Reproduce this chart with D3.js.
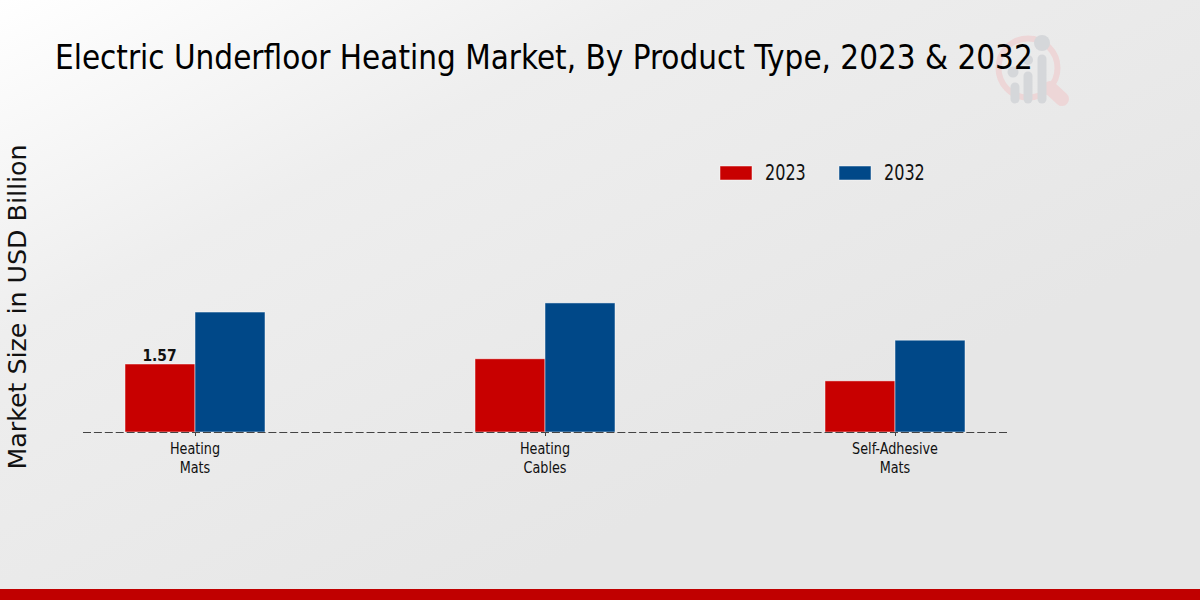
<!DOCTYPE html>
<html>
<head>
<meta charset="utf-8">
<script src="https://cdn.jsdelivr.net/npm/d3@7"></script>
<style>
  html, body { margin: 0; padding: 0; background: #e6e6e6; overflow: hidden; }
  text { font-family: "DejaVu Sans Condensed", "DejaVu Sans", sans-serif; }
</style>
</head>
<body>
<svg id="chart" width="1200" height="600"></svg>
<script>
// values, 1.57 is the only printed label
const categories = [['Heating', 'Mats'], ['Heating', 'Cables'], ['Self-Adhesive', 'Mats']];
const years = ['2023', '2032'];
const values2023 = [1.57, 1.69, 1.18];
const values2032 = [2.77, 2.98, 2.12];
const barColors = ['#c80000', '#004888'];
const titleText = 'Electric Underfloor Heating Market, By Product Type, 2023 & 2032';
const yLabel = 'Market Size in USD Billion';

const svg = d3.select('#chart');
const defs = svg.append('defs');

// ===== background =====
const grad = defs.append('linearGradient').attr('id', 'bg')
  .attr('x1', '0%').attr('y1', '0%').attr('x2', '70%').attr('y2', '70%');
grad.append('stop').attr('offset', '0%').attr('stop-color', '#ffffff');
grad.append('stop').attr('offset', '40%').attr('stop-color', '#eeeeee');
grad.append('stop').attr('offset', '100%').attr('stop-color', '#e6e6e6');
svg.append('rect').attr('width', 1200).attr('height', 600).attr('fill', 'url(#bg)');
svg.append('rect').attr('y', 589).attr('width', 1200).attr('height', 11).attr('fill', '#c00000');

// ===== watermark logo =====
const logo = svg.append('g');
logo.append('line').attr('x1', 1050).attr('y1', 88).attr('x2', 1062).attr('y2', 99)
  .attr('stroke', '#edd6d7').attr('stroke-width', 14).attr('stroke-linecap', 'round');
logo.append('circle').attr('cx', 1028).attr('cy', 68).attr('r', 29.5)
  .attr('fill', 'none').attr('stroke', '#edd6d7').attr('stroke-width', 6);
[[1015, 87], [1028, 76], [1042, 59]].forEach(([cx, top]) => {
  logo.append('line').attr('x1', cx).attr('y1', top).attr('x2', cx).attr('y2', 99)
    .attr('stroke', '#d5d7da').attr('stroke-width', 9).attr('stroke-linecap', 'round');
});
logo.append('circle').attr('cx', 1013).attr('cy', 72).attr('r', 5.5).attr('fill', '#d5d7da');
logo.append('circle').attr('cx', 1028).attr('cy', 60).attr('r', 5).attr('fill', '#d5d7da');
logo.append('circle').attr('cx', 1042).attr('cy', 43).attr('r', 8).attr('fill', '#d5d7da');

// ===== scales =====
const baseY = 432;
const x = d3.scalePoint().domain(categories.map(c => c.join(' '))).range([195, 895]);
const xYear = d3.scaleBand().domain(years).range([-70, 70]);
const y = d3.scaleLinear().domain([0, 1.57]).range([baseY, 364]);
const color = d3.scaleOrdinal().domain(years).range(barColors);

// ===== bars =====
const series = [values2023, values2032];
const groups = svg.selectAll('.year')
  .data(years)
  .enter()
  .append('g')
  .attr('class', 'year');

groups.selectAll('rect')
  .data((yr, i) => series[i].map((v, j) => ({ yr, v, cat: categories[j].join(' ') })))
  .enter()
  .append('rect')
  .attr('x', d => x(d.cat) + xYear(d.yr))
  .attr('y', d => y(d.v))
  .attr('width', xYear.bandwidth())
  .attr('height', d => baseY - y(d.v))
  .attr('fill', d => color(d.yr))
  .attr('stroke', '#ffffff')
  .attr('stroke-opacity', 0.6)
  .attr('stroke-width', 0.8);

svg.append('text')
  .attr('x', x(categories[0].join(' ')) + xYear('2023') + xYear.bandwidth() / 2 - 0.5)
  .attr('y', y(values2023[0]) - 3.5)
  .attr('text-anchor', 'middle')
  .attr('font-size', 15.4)
  .attr('font-weight', 700)
  .attr('fill', '#111')
  .text(values2023[0]);

// ===== x axis, dashed, sits over the bars =====
const axisG = svg.append('g')
  .attr('transform', `translate(0,${baseY})`)
  .call(d3.axisBottom(x).tickSize(4).tickFormat(''));
axisG.select('.domain').remove();
axisG.selectAll('.tick line').attr('stroke', '#444');
axisG.append('line')
  .attr('x1', x.range()[0] - 112).attr('x2', x.range()[1] + 112)
  .attr('y1', 0.5).attr('y2', 0.5)
  .attr('stroke', '#444').attr('stroke-width', 1)
  .attr('stroke-dasharray', '8,2.905');

// labels in the reference are narrower than the font, so squeeze them a bit
categories.forEach(c => {
  c.forEach((line, i) => {
    svg.append('text')
      .attr('transform', `translate(${x(c.join(' '))},${454 + i * 19}) scale(0.89,1)`)
      .attr('text-anchor', 'middle')
      .attr('font-size', 16)
      .attr('fill', '#111')
      .text(line);
  });
});

// ===== title, y label =====
svg.append('text')
  .attr('transform', 'translate(55,69) scale(0.967,1)')
  .attr('font-size', 34)
  .attr('fill', '#000')
  .text(titleText);

svg.append('text')
  .attr('transform', 'translate(25.5,307) rotate(-90)')
  .attr('text-anchor', 'middle')
  .attr('font-size', 25.3)
  .attr('fill', '#111')
  .style('font-family', '"DejaVu Sans", sans-serif')
  .text(yLabel);

// ===== legend =====
const legendX = d3.scaleOrdinal().domain(years).range([720, 839]);
const legend = svg.selectAll('.legend')
  .data(years)
  .enter()
  .append('g')
  .attr('class', 'legend')
  .attr('transform', d => `translate(${legendX(d)},166)`);
legend.append('rect')
  .attr('width', 32).attr('height', 14)
  .attr('fill', d => color(d))
  .attr('stroke', '#fff').attr('stroke-opacity', 0.6).attr('stroke-width', 0.8);
legend.append('text')
  .attr('transform', 'translate(45,14) scale(0.87,1)')
  .attr('font-size', 20.5)
  .attr('fill', '#111')
  .text(d => d);
</script>
</body>
</html>
